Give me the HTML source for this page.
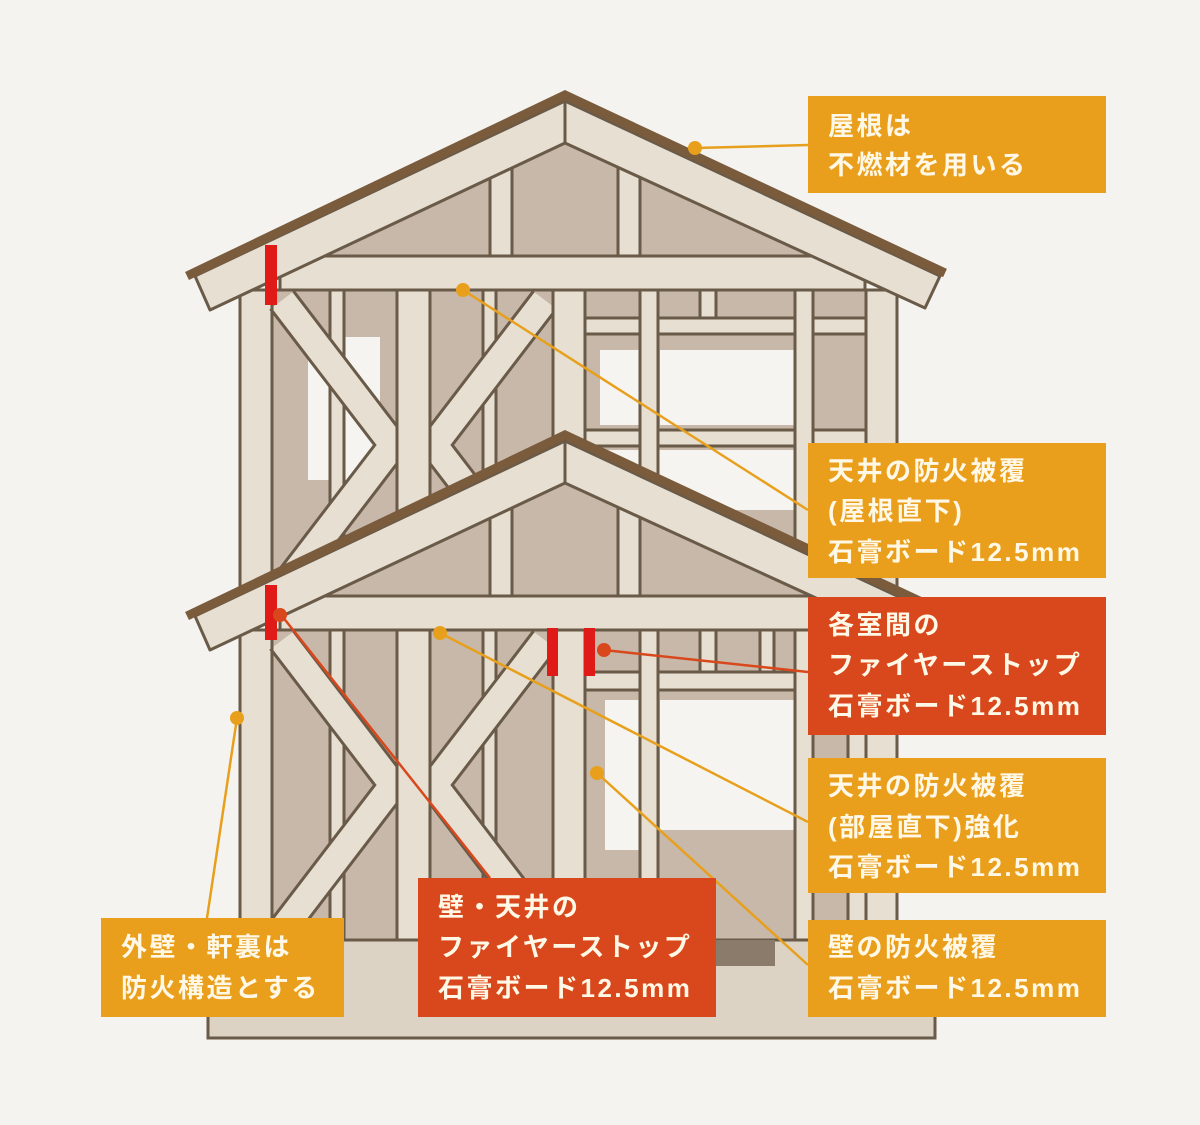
<!DOCTYPE html>
<html><head><meta charset="utf-8"><style>
html,body{margin:0;padding:0;background:#f4f3f0;}
svg{display:block}
text{font-family:"Liberation Sans","Noto Sans CJK JP",sans-serif;font-size:26px;fill:#fff8e6;font-weight:bold;letter-spacing:2.5px}
</style></head><body>
<svg width="1200" height="1125" viewBox="0 0 1200 1125" xmlns="http://www.w3.org/2000/svg">
<defs>
<g id="braces">
  <polyline points="282,10 393,155 282,300" fill="none" stroke="#6a5a48" stroke-width="32" stroke-linejoin="miter"/>
  <polyline points="282,10 393,155 282,300" fill="none" stroke="#e6dfd2" stroke-width="26" stroke-linejoin="miter"/>
  <polyline points="545,10 434,155 545,300" fill="none" stroke="#6a5a48" stroke-width="32" stroke-linejoin="miter"/>
  <polyline points="545,10 434,155 545,300" fill="none" stroke="#e6dfd2" stroke-width="26" stroke-linejoin="miter"/>
  <g fill="#e6dfd2" stroke="#6a5a48" stroke-width="3">
    <rect x="397" y="0" width="33" height="310"/>
    <rect x="553" y="0" width="32" height="310"/>
  </g>
  <line x1="272" y1="0" x2="272" y2="310" stroke="#6a5a48" stroke-width="3"/>
</g>
<g id="floorU">
  <rect x="240" y="0" width="657" height="310" fill="#c7b8aa" stroke="#6a5a48" stroke-width="3"/>
  <rect x="308" y="47" width="72" height="143" fill="#f6f4f1"/>
  <rect x="600" y="60" width="45" height="75" fill="#f6f4f1"/>
  <rect x="660" y="60" width="135" height="75" fill="#f6f4f1"/>
  <rect x="600" y="160" width="200" height="60" fill="#f6f4f1"/>
  <g fill="#e6dfd2" stroke="#6a5a48" stroke-width="3">
    <rect x="585" y="28" width="281" height="16"/>
    <rect x="585" y="140" width="281" height="16"/>
    <rect x="640" y="0" width="18" height="310"/>
    <rect x="795" y="0" width="18" height="310"/>
    <rect x="700" y="0" width="16" height="28"/>
    <rect x="330" y="0" width="14" height="310"/>
    <rect x="483" y="0" width="13" height="310"/>
    <rect x="240" y="0" width="32" height="310"/>
    <rect x="866" y="0" width="31" height="310"/>
  </g>
  <use href="#braces"/>
</g>
<g id="floorL">
  <rect x="240" y="0" width="657" height="310" fill="#c7b8aa" stroke="#6a5a48" stroke-width="3"/>
  <rect x="605" y="70" width="40" height="150" fill="#f6f4f1"/>
  <rect x="660" y="70" width="135" height="130" fill="#f6f4f1"/>
  <g fill="#e6dfd2" stroke="#6a5a48" stroke-width="3">
    <rect x="585" y="42" width="281" height="18"/>
    <rect x="640" y="0" width="18" height="310"/>
    <rect x="795" y="0" width="18" height="310"/>
    <rect x="700" y="0" width="16" height="42"/>
    <rect x="760" y="0" width="14" height="42"/>
    <rect x="330" y="0" width="14" height="310"/>
    <rect x="483" y="0" width="13" height="310"/>
    <rect x="240" y="0" width="32" height="310"/>
    <rect x="848" y="0" width="18" height="310"/>
    <rect x="866" y="0" width="31" height="310"/>
  </g>
  <use href="#braces"/>
</g>
<g id="gable">
  <polygon points="280,0 565,-135 860,0" fill="#c7b8aa"/>
  <rect x="490" y="-90" width="22" height="90" fill="#e6dfd2" stroke="#6a5a48" stroke-width="3"/>
  <rect x="618" y="-90" width="22" height="90" fill="#e6dfd2" stroke="#6a5a48" stroke-width="3"/>
  <rect x="280" y="-2" width="585" height="34" fill="#e6dfd2" stroke="#6a5a48" stroke-width="3"/>
  <polygon points="195,18 565,-157 940,18 925,50 565,-115 210,52" fill="#e6dfd2" stroke="#6a5a48" stroke-width="3" stroke-linejoin="round"/>
  <line x1="565" y1="-157" x2="565" y2="-115" stroke="#6a5a48" stroke-width="3"/>
  <polyline points="187,18 565,-163 945,15" fill="none" stroke="#7a5b3c" stroke-width="9" stroke-linejoin="miter"/>
</g>
</defs>

<use href="#floorU" transform="translate(0,290)"/>
<use href="#gable" transform="translate(0,258)"/>
<rect x="208" y="928" width="727" height="110" fill="#ddd3c4" stroke="#6a5a48" stroke-width="3"/>
<use href="#floorL" transform="translate(0,630)"/>
<rect x="700" y="940" width="75" height="26" fill="#8a7b6a"/>
<use href="#gable" transform="translate(0,598)"/>

<rect x="265" y="245" width="12" height="60" fill="#e01a16"/>
<rect x="265" y="585" width="12" height="55" fill="#e01a16"/>
<rect x="547" y="628" width="11" height="48" fill="#e01a16"/>
<rect x="584" y="628" width="11" height="48" fill="#e01a16"/>

<g stroke-width="2.5" fill="none">
  <line x1="695" y1="148" x2="808" y2="145" stroke="#e8a01c"/>
  <line x1="463" y1="290" x2="808" y2="510" stroke="#e8a01c"/>
  <line x1="604" y1="650" x2="808" y2="672" stroke="#d9481c"/>
  <line x1="440" y1="633" x2="808" y2="822" stroke="#e8a01c"/>
  <line x1="597" y1="773" x2="808" y2="965" stroke="#e8a01c"/>
  <line x1="282" y1="616" x2="490" y2="878" stroke="#d9481c"/>
  <line x1="237" y1="718" x2="207" y2="918" stroke="#e8a01c"/>
</g>
<g>
  <circle cx="695" cy="148" r="7" fill="#e8a01c"/>
  <circle cx="463" cy="290" r="7" fill="#e8a01c"/>
  <circle cx="604" cy="650" r="7" fill="#d9481c"/>
  <circle cx="440" cy="633" r="7" fill="#e8a01c"/>
  <circle cx="597" cy="773" r="7" fill="#e8a01c"/>
  <circle cx="280" cy="615" r="7" fill="#d9481c"/>
  <circle cx="237" cy="718" r="7" fill="#e8a01c"/>
</g>

<rect x="808" y="96" width="298" height="97" fill="#e99f1c"/>
<text x="828" y="135">屋根は</text>
<text x="828" y="174">不燃材を用いる</text>

<rect x="808" y="443" width="298" height="135" fill="#e99f1c"/>
<text x="828" y="480">天井の防火被覆</text>
<text x="828" y="520">(屋根直下)</text>
<text x="828" y="561">石膏ボード12.5mm</text>

<rect x="808" y="597" width="298" height="138" fill="#d9481c"/>
<text x="828" y="634">各室間の</text>
<text x="828" y="674">ファイヤーストップ</text>
<text x="828" y="715">石膏ボード12.5mm</text>

<rect x="808" y="758" width="298" height="135" fill="#e99f1c"/>
<text x="828" y="795">天井の防火被覆</text>
<text x="828" y="836">(部屋直下)強化</text>
<text x="828" y="876">石膏ボード12.5mm</text>

<rect x="808" y="920" width="298" height="97" fill="#e99f1c"/>
<text x="828" y="956">壁の防火被覆</text>
<text x="828" y="997">石膏ボード12.5mm</text>

<rect x="418" y="878" width="298" height="139" fill="#d9481c"/>
<text x="438" y="916">壁・天井の</text>
<text x="438" y="956">ファイヤーストップ</text>
<text x="438" y="997">石膏ボード12.5mm</text>

<rect x="101" y="918" width="243" height="99" fill="#e99f1c"/>
<text x="121" y="956">外壁・軒裏は</text>
<text x="121" y="997">防火構造とする</text>
</svg>
</body></html>
